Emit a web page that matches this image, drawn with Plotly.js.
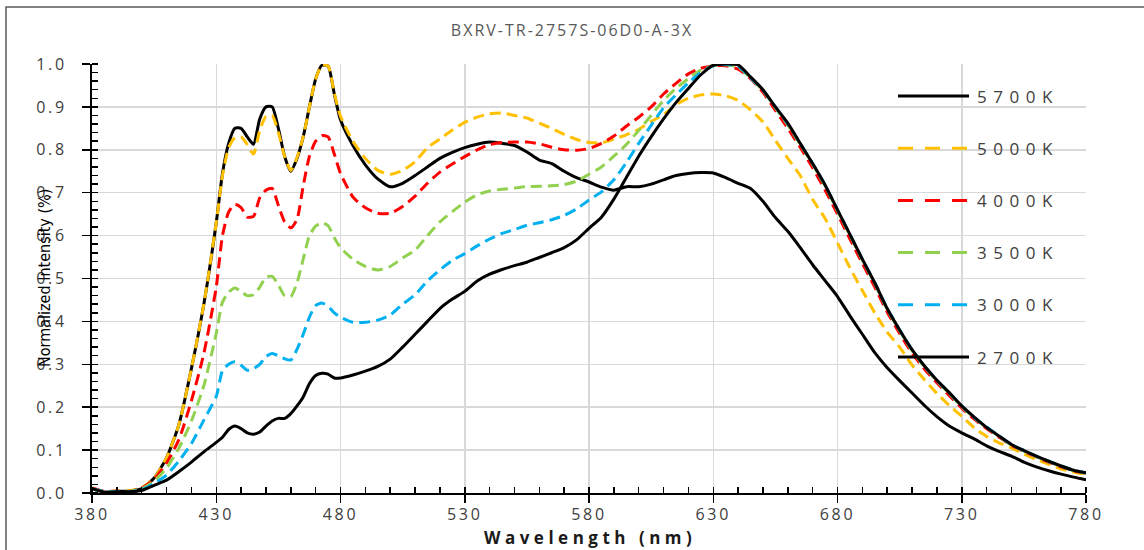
<!DOCTYPE html>
<html>
<head>
<meta charset="utf-8">
<script src="https://cdn.plot.ly/plotly-3.0.1.min.js"></script>
<style>
html,body{margin:0;padding:0;background:#fff;}
#chart{width:1144px;height:550px;}
.xtick text,.ytick text{letter-spacing:2.7px !important;}
.gtitle{letter-spacing:2px !important;}
.annotation-text{letter-spacing:6.5px !important;}
.annotation[data-index="0"] .annotation-text{letter-spacing:0px !important;}
.annotation[data-index="1"] .annotation-text{letter-spacing:4.5px !important;}
</style>
</head>
<body>
<div id="chart"></div>
<script>
const chartTitle = 'BXRV-TR-2757S-06D0-A-3X';
const xTitle = 'Wavelength (nm)';
const yTitle = 'Normalized Intensity (%)';

const wavelength = [380,385,390,395,400,405,410,415,420,425,
 430,432.5,435,437.5,440,442.5,445,447.5,450,452.5,455,457.5,460,462.5,465,467.5,470,472.5,475,477.5,480,
 485,490,495,500,505,510,515,520,525,530,535,540,545,550,555,560,565,570,575,580,585,590,595,600,605,610,615,620,625,630,635,640,645,650,655,660,665,670,675,680,685,690,695,700,705,710,715,720,725,730,735,740,745,750,755,760,765,770,775,780];

const series5700K = [0.010,0.002,0.004,0.004,0.010,0.035,0.082,0.160,0.290,0.440,
 0.630,0.745,0.815,0.850,0.850,0.830,0.813,0.872,0.900,0.900,0.850,0.785,0.750,0.780,0.830,0.900,0.965,0.997,0.995,0.930,0.870,
 0.810,0.765,0.732,0.714,0.722,0.740,0.760,0.780,0.794,0.805,0.813,0.818,0.815,0.810,0.795,0.776,0.768,0.750,0.735,0.725,0.713,0.706,0.714,0.714,0.720,0.730,0.740,0.745,0.747,0.746,0.735,0.722,0.710,0.680,0.642,0.610,0.572,0.532,0.495,0.458,0.413,0.370,0.327,0.292,0.262,0.233,0.204,0.178,0.156,0.140,0.126,0.110,0.097,0.086,0.072,0.061,0.052,0.044,0.037,0.031];

const series5000K = [0.012,0.003,0.005,0.005,0.012,0.035,0.082,0.160,0.290,0.440,
 0.630,0.740,0.805,0.828,0.830,0.812,0.790,0.845,0.878,0.880,0.840,0.785,0.752,0.782,0.830,0.900,0.965,0.997,0.995,0.932,0.878,
 0.820,0.780,0.752,0.743,0.752,0.772,0.805,0.825,0.846,0.864,0.876,0.884,0.886,0.880,0.874,0.862,0.850,0.836,0.824,0.817,0.816,0.825,0.835,0.848,0.866,0.882,0.905,0.920,0.928,0.930,0.926,0.915,0.893,0.865,0.822,0.780,0.740,0.684,0.640,0.583,0.525,0.472,0.420,0.375,0.340,0.298,0.264,0.232,0.204,0.179,0.152,0.132,0.117,0.105,0.091,0.078,0.067,0.056,0.049,0.043];

const series4000K = [0.012,0.004,0.004,0.004,0.012,0.032,0.070,0.125,0.215,0.325,
 0.480,0.600,0.655,0.673,0.665,0.643,0.645,0.688,0.706,0.710,0.670,0.632,0.618,0.638,0.716,0.785,0.820,0.833,0.830,0.790,0.745,
 0.690,0.665,0.652,0.652,0.668,0.692,0.722,0.748,0.767,0.784,0.800,0.812,0.817,0.818,0.818,0.814,0.806,0.800,0.799,0.803,0.815,0.832,0.855,0.876,0.900,0.930,0.955,0.977,0.990,0.996,0.996,0.988,0.966,0.934,0.892,0.850,0.806,0.758,0.706,0.650,0.592,0.535,0.480,0.422,0.372,0.326,0.289,0.257,0.227,0.198,0.172,0.150,0.130,0.111,0.097,0.084,0.072,0.061,0.052,0.046];

const series3500K = [0.010,0.003,0.004,0.004,0.010,0.028,0.058,0.105,0.168,0.250,
 0.372,0.445,0.468,0.478,0.470,0.460,0.462,0.480,0.503,0.505,0.485,0.460,0.458,0.490,0.545,0.600,0.622,0.630,0.623,0.595,0.572,
 0.545,0.528,0.520,0.528,0.548,0.566,0.600,0.632,0.656,0.678,0.695,0.704,0.708,0.711,0.714,0.715,0.716,0.719,0.727,0.743,0.760,0.785,0.812,0.845,0.880,0.915,0.943,0.966,0.986,0.996,0.998,0.993,0.967,0.938,0.898,0.858,0.813,0.766,0.716,0.658,0.601,0.543,0.488,0.428,0.378,0.332,0.294,0.261,0.232,0.201,0.175,0.153,0.132,0.112,0.098,0.085,0.073,0.062,0.052,0.046];

const series3000K = [0.010,0.003,0.003,0.003,0.008,0.022,0.042,0.075,0.115,0.170,
 0.225,0.285,0.300,0.306,0.298,0.286,0.290,0.300,0.318,0.325,0.320,0.313,0.310,0.335,0.370,0.410,0.437,0.443,0.435,0.420,0.410,
 0.398,0.398,0.403,0.415,0.440,0.462,0.494,0.520,0.542,0.558,0.576,0.592,0.605,0.614,0.624,0.630,0.637,0.647,0.662,0.683,0.702,0.730,0.770,0.815,0.857,0.898,0.928,0.956,0.980,0.996,0.999,0.995,0.968,0.939,0.900,0.860,0.815,0.768,0.718,0.660,0.603,0.545,0.490,0.430,0.380,0.334,0.296,0.263,0.233,0.203,0.176,0.154,0.133,0.113,0.099,0.086,0.074,0.063,0.053,0.047];

const series2700K = [0.010,0.002,0.003,0.003,0.006,0.018,0.030,0.050,0.072,0.096,
 0.118,0.130,0.148,0.156,0.150,0.140,0.137,0.142,0.156,0.168,0.174,0.174,0.185,0.203,0.224,0.255,0.274,0.279,0.277,0.268,0.268,
 0.275,0.284,0.295,0.312,0.340,0.370,0.400,0.430,0.452,0.470,0.494,0.510,0.521,0.530,0.538,0.549,0.560,0.572,0.590,0.617,0.643,0.685,0.735,0.785,0.830,0.872,0.910,0.943,0.975,0.997,1.000,0.998,0.970,0.940,0.900,0.862,0.815,0.768,0.718,0.660,0.603,0.545,0.490,0.430,0.380,0.334,0.296,0.263,0.234,0.203,0.177,0.153,0.133,0.113,0.099,0.086,0.074,0.063,0.053,0.047];

const seriesNames = ['5700K','5000K','4000K','3500K','3000K','2700K'];
const seriesValues = [series5700K, series5000K, series4000K, series3500K, series3000K, series2700K];
const seriesColors = ['#000000','#FFC000','#FF0000','#92D050','#00B0F0','#000000'];
const seriesDash = ['solid','dash','dash','dash','dash','solid'];

const xTicks = [380,430,480,530,580,630,680,730,780];

const traces = seriesNames.map((name, i) => ({
  type: 'scatter', mode: 'lines', name: name,
  x: wavelength, y: seriesValues[i],
  line: {color: seriesColors[i], width: 3, shape: 'spline', smoothing: 0.6,
         dash: seriesDash[i] === 'solid' ? 'solid' : '11px,6px'},
  showlegend: false, hoverinfo: 'x+y+name'
}));

// plot-area geometry (px) for paper-coordinate decorations
const W = 1144, H = 550, ML = 92, MR = 58, MT = 64, MB = 57;
const PW = W - ML - MR, PH = H - MT - MB;
const px2x = p => (p - ML) / PW;
const py2y = p => (H - MB - p) / PH;

const shapes = [{
  type: 'rect', xref: 'paper', yref: 'paper', layer: 'below',
  x0: px2x(6), x1: px2x(1152), y0: py2y(560), y1: py2y(7),
  line: {color: '#595959', width: 1.5}, fillcolor: 'rgba(0,0,0,0)'
}];
const annotations = [{
  xref: 'paper', yref: 'paper', x: px2x(44), y: py2y(278),
  text: yTitle, textangle: -90, showarrow: false,
  xanchor: 'center', yanchor: 'middle',
  font: {family: '"Liberation Sans Narrow", "DejaVu Sans Condensed", sans-serif', size: 16, color: '#000000'}
}, {
  xref: 'paper', yref: 'paper', x: px2x(590), y: py2y(537),
  text: xTitle, showarrow: false, xanchor: 'center', yanchor: 'middle',
  font: {family: '"Open Sans", sans-serif', size: 17, color: '#1a1a1a', weight: 700}
}];
seriesNames.forEach((name, i) => {
  const yc = py2y(96 + 52.2 * i);
  shapes.push({
    type: 'line', xref: 'paper', yref: 'paper',
    x0: px2x(898), x1: px2x(969), y0: yc, y1: yc,
    line: {color: seriesColors[i], width: 3, dash: seriesDash[i] === 'solid' ? 'solid' : '15px,12px'}
  });
  annotations.push({
    xref: 'paper', yref: 'paper', x: px2x(975), y: yc,
    text: name, showarrow: false, xanchor: 'left', yanchor: 'middle',
    font: {family: '"Open Sans", sans-serif', size: 17, color: '#404040'}
  });
});

const layout = {
  width: W, height: H,
  margin: {l: ML, r: MR, t: MT, b: MB, pad: 0},
  paper_bgcolor: '#ffffff', plot_bgcolor: '#ffffff',
  title: {text: chartTitle, x: 0.5, xref: 'container', xanchor: 'center',
          y: 1 - 30 / H, yref: 'container', yanchor: 'middle',
          font: {family: '"Open Sans", sans-serif', size: 16, color: '#595959'}},
  xaxis: {
    range: [380, 780], tickmode: 'array', tickvals: xTicks, ticktext: xTicks.map(String),
    showgrid: true, gridcolor: '#d9d9d9', gridwidth: 1.5,
    showline: true, linecolor: '#000000', linewidth: 2, zeroline: false,
    ticks: 'outside', ticklen: 8, tickwidth: 1.5, tickcolor: '#000000',
    minor: {tick0: 380.0001, dtick: 10, ticks: 'inside', ticklen: 6, tickwidth: 1.5, tickcolor: '#000000', showgrid: false},
    tickfont: {family: '"Open Sans", sans-serif', size: 16, color: '#404040'},
    ticklabelstandoff: -2,
    automargin: false, fixedrange: true
  },
  yaxis: {
    range: [0, 1], tickmode: 'linear', tick0: 0, dtick: 0.1, tickformat: '.1f',
    showgrid: true, gridcolor: '#d9d9d9', gridwidth: 1.5,
    showline: true, linecolor: '#000000', linewidth: 2, zeroline: false,
    ticks: 'outside', ticklen: 8, tickwidth: 1.5, tickcolor: '#000000',
    minor: {tick0: 0.00001, dtick: 0.02, ticks: 'inside', ticklen: 6, tickwidth: 1.5, tickcolor: '#000000', showgrid: false},
    tickfont: {family: '"Open Sans", sans-serif', size: 16, color: '#404040'},
    ticklabelstandoff: 12,
    automargin: false, fixedrange: true
  },
  shapes: shapes,
  annotations: annotations,
  showlegend: false
};

Plotly.newPlot('chart', traces, layout, {displayModeBar: false, staticPlot: true});
</script>
</body>
</html>
